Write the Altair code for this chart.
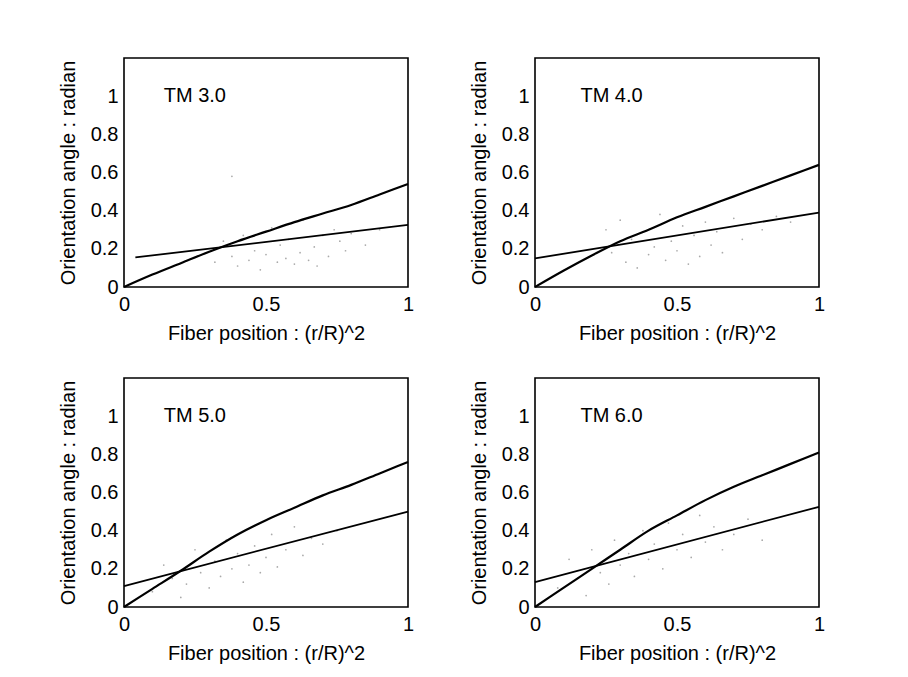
import altair as alt
import pandas as pd

# ---------------- data ----------------
panel_names = ["TM 3.0", "TM 4.0", "TM 5.0", "TM 6.0"]
curve_x = [0.0, 0.1, 0.2, 0.3, 0.4, 0.5, 0.6, 0.7, 0.8, 0.9, 1.0]
curve_tm3 = [0.0, 0.065, 0.125, 0.185, 0.24, 0.29, 0.34, 0.385, 0.43, 0.485, 0.54]
curve_tm4 = [0.0, 0.085, 0.165, 0.24, 0.30, 0.365, 0.42, 0.475, 0.53, 0.585, 0.64]
curve_tm5 = [0.0, 0.095, 0.19, 0.29, 0.38, 0.455, 0.52, 0.585, 0.64, 0.70, 0.76]
curve_tm6 = [0.0, 0.10, 0.20, 0.30, 0.40, 0.48, 0.56, 0.63, 0.69, 0.75, 0.81]
curves = [curve_tm3, curve_tm4, curve_tm5, curve_tm6]

fit_x = [[0.04, 1.0], [0.0, 1.0], [0.0, 1.0], [0.0, 1.0]]
fit_y = [[0.155, 0.325], [0.15, 0.39], [0.11, 0.50], [0.13, 0.525]]

scatter_tm3_x = [0.32, 0.35, 0.38, 0.40, 0.42, 0.44, 0.46, 0.48, 0.50, 0.52, 0.54, 0.55, 0.57, 0.58,
                 0.60, 0.62, 0.63, 0.65, 0.67, 0.68, 0.70, 0.72, 0.74, 0.76, 0.78, 0.80, 0.85, 0.90, 0.38]
scatter_tm3_y = [0.13, 0.24, 0.16, 0.11, 0.27, 0.14, 0.19, 0.09, 0.17, 0.31, 0.13, 0.22, 0.15, 0.25,
                 0.12, 0.18, 0.35, 0.14, 0.21, 0.11, 0.27, 0.16, 0.30, 0.24, 0.19, 0.28, 0.22, 0.30, 0.58]
scatter_tm4_x = [0.25, 0.27, 0.30, 0.32, 0.34, 0.36, 0.38, 0.40, 0.42, 0.44, 0.46, 0.48, 0.50, 0.52,
                 0.54, 0.56, 0.58, 0.60, 0.62, 0.64, 0.66, 0.70, 0.73, 0.76, 0.80, 0.85, 0.90]
scatter_tm4_y = [0.30, 0.18, 0.35, 0.13, 0.25, 0.10, 0.29, 0.17, 0.21, 0.38, 0.14, 0.24, 0.19, 0.32,
                 0.12, 0.27, 0.16, 0.34, 0.22, 0.29, 0.18, 0.36, 0.25, 0.33, 0.30, 0.37, 0.34]
scatter_tm5_x = [0.10, 0.14, 0.17, 0.20, 0.22, 0.25, 0.27, 0.30, 0.32, 0.34, 0.36, 0.38, 0.40, 0.42,
                 0.44, 0.46, 0.48, 0.50, 0.52, 0.54, 0.57, 0.60, 0.63, 0.66, 0.70, 0.75]
scatter_tm5_y = [0.08, 0.22, 0.15, 0.05, 0.12, 0.30, 0.18, 0.10, 0.24, 0.16, 0.35, 0.20, 0.28, 0.13,
                 0.22, 0.32, 0.18, 0.26, 0.38, 0.21, 0.30, 0.42, 0.27, 0.36, 0.33, 0.40]
scatter_tm6_x = [0.08, 0.12, 0.15, 0.18, 0.20, 0.23, 0.26, 0.28, 0.30, 0.33, 0.35, 0.38, 0.40, 0.42,
                 0.45, 0.47, 0.50, 0.52, 0.55, 0.58, 0.60, 0.63, 0.66, 0.70, 0.75, 0.80]
scatter_tm6_y = [0.10, 0.25, 0.15, 0.06, 0.30, 0.18, 0.12, 0.35, 0.22, 0.28, 0.16, 0.40, 0.25, 0.33,
                 0.20, 0.44, 0.30, 0.38, 0.26, 0.48, 0.34, 0.42, 0.30, 0.38, 0.46, 0.35]
scatter_x = [scatter_tm3_x, scatter_tm4_x, scatter_tm5_x, scatter_tm6_x]
scatter_y = [scatter_tm3_y, scatter_tm4_y, scatter_tm5_y, scatter_tm6_y]

label_x = [0.14, 0.16, 0.14, 0.16]
label_y = [1.0, 1.0, 1.0, 1.0]

x_ticks = [0, 0.5, 1]
y_ticks = [0, 0.2, 0.4, 0.6, 0.8, 1.0]

FONT = "Liberation Sans"
W, H = 284, 229


def panel(i):
    xaxis = alt.Axis(values=x_ticks, format="~g", title="Fiber position : (r/R)^2",
                     grid=False, ticks=False, domain=False, labelFlush=False,
                     labelFontSize=20, titleFontSize=20, labelPadding=7, titlePadding=9,
                     labelFont=FONT, titleFont=FONT, titleFontWeight="normal",
                     labelColor="black", titleColor="black")
    yaxis = alt.Axis(values=y_ticks, format="~f", title="Orientation angle : radian",
                     grid=False, ticks=False, domain=False, labelFlush=False,
                     labelFontSize=20, titleFontSize=20, labelPadding=6, titlePadding=12,
                     labelFont=FONT, titleFont=FONT, titleFontWeight="normal",
                     labelColor="black", titleColor="black")
    xs = alt.Scale(domain=[0, 1], nice=False)
    ys = alt.Scale(domain=[0, 1.2], nice=False)

    df_curve = pd.DataFrame({"x": curve_x, "y": curves[i]})
    df_fit = pd.DataFrame({"x": fit_x[i], "y": fit_y[i]})
    df_sc = pd.DataFrame({"x": scatter_x[i], "y": scatter_y[i]})
    df_lab = pd.DataFrame({"x": [label_x[i]], "y": [label_y[i]], "t": [panel_names[i]]})

    sc = alt.Chart(df_sc).mark_circle(size=3, color="#a0a0a0", opacity=0.9).encode(
        x=alt.X("x:Q", scale=xs, axis=xaxis), y=alt.Y("y:Q", scale=ys, axis=yaxis))
    cv = alt.Chart(df_curve).mark_line(color="black", strokeWidth=2.2, interpolate="monotone").encode(
        x=alt.X("x:Q", scale=xs), y=alt.Y("y:Q", scale=ys))
    ft = alt.Chart(df_fit).mark_line(color="black", strokeWidth=1.8).encode(
        x=alt.X("x:Q", scale=xs), y=alt.Y("y:Q", scale=ys))
    lb = alt.Chart(df_lab).mark_text(align="left", baseline="middle", fontSize=20, font=FONT,
                                     color="black").encode(
        x=alt.X("x:Q", scale=xs), y=alt.Y("y:Q", scale=ys), text="t:N")
    return alt.layer(sc, cv, ft, lb).properties(width=W, height=H)


top = alt.hconcat(panel(0), panel(1), spacing=53)
bottom = alt.hconcat(panel(2), panel(3), spacing=53)
chart = alt.vconcat(top, bottom, spacing=33).properties(
    padding={"left": 49, "top": 49, "right": 5, "bottom": 5},
    background="white",
).configure_view(stroke="black", strokeWidth=1.6)

chart.save("out.html", embed_options={"renderer": "svg", "actions": False})
